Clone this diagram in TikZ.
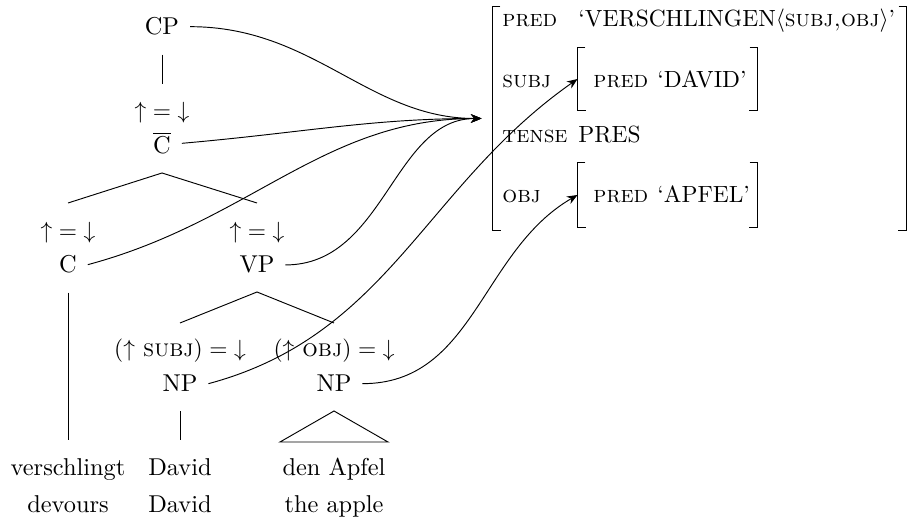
\documentclass[tikz,border=0pt]{standalone}
\usepackage{amsmath}
\usetikzlibrary{arrows.meta,positioning}
\newcommand{\fsz}{\fontsize{10.4}{12.5}\selectfont}

\begin{document}
\begin{tikzpicture}[x=0.015cm,y=0.015cm,font=\fsz]
  \tikzset{cat/.style={inner xsep=4.5pt, inner ysep=0pt, anchor=base},
    ann/.style={inner sep=0pt, anchor=base},
    word/.style={inner sep=0pt, anchor=base},
    tree/.style={shorten <=8pt, shorten >=8pt},
    proj/.style={-{Stealth[length=4.5pt,width=3.6pt]}},
    attr/.style={inner sep=0pt, anchor=base west, font=\normalsize\scshape},
    val/.style={inner sep=0pt, anchor=base west, font=\normalsize},
    fstr/.style={inner sep=0pt, minimum width=2.685cm, minimum height=0.95cm}}
  \useasboundingbox (0,0) rectangle (909,-524);
  % c-structure
  \node[cat] (cp) at (162,-35) {CP};
  \node[ann] (cbarann) at (162,-119) {${\uparrow} = {\downarrow}$};
  \node[cat] (cbar) at (162,-154) {$\overline{\mbox{C}}$};
  \node[ann] (cann) at (68,-239) {${\uparrow} = {\downarrow}$};
  \node[cat] (c) at (68,-273) {C};
  \node[ann] (vpann) at (257,-239) {${\uparrow} = {\downarrow}$};
  \node[cat] (vp) at (257,-273) {VP};
  \node[ann] (subjann) at (180,-357) {$({\uparrow}$ \textsc{subj}$) = {\downarrow}$};
  \node[cat] (np1) at (180,-392) {NP};
  \node[ann] (objann) at (334,-357) {$({\uparrow}$ \textsc{obj}$) = {\downarrow}$};
  \node[cat] (np2) at (334,-392) {NP};
  % words and glosses
  \node[word] (w1) at (68,-476) {verschlingt};
  \node[word] (w2) at (180,-476) {David};
  \node[word] (w3) at (334,-476) {den Apfel};
  \node[word] (g1) at (68,-513) {devours};
  \node[word] (g2) at (180,-513) {David};
  \node[word] (g3) at (334,-513) {the apple};
  % branches
  \coordinate (b1) at (162,-173);
  \coordinate (b1l) at (68,-203);
  \coordinate (b1r) at (257,-203);
  \coordinate (b2) at (257,-292);
  \coordinate (b2l) at (180,-323);
  \coordinate (b2r) at (334,-323);
  \coordinate (t) at (334,-411);
  \coordinate (tl) at (280,-442);
  \coordinate (tr) at (388,-442);
  \draw[tree] (cp) -- (cbarann);
  \draw (b1l) -- (b1) -- (b1r);
  \draw (b2l) -- (b2) -- (b2r);
  \draw[tree] (c) -- (w1);
  \draw[tree] (np1) -- (w2);
  \draw (tl) -- (t) -- (tr) -- cycle;
  % f-structure
  \node[fstr, minimum width=6.195cm, minimum height=3.345cm] (f0) at (699.5,-118.5) {};
  \node[fstr, minimum height=0.93cm] (fsubj) at (667.5,-79) {};
  \node[fstr] (fobj) at (667.5,-195) {};
  \foreach \f in {f0,fsubj,fobj} {
    \draw ([xshift=3.4pt]\f.north west) -| (\f.south west) -- ++(8,0);
    \draw ([xshift=-3.4pt]\f.north east) -| (\f.south east) -- ++(-8,0);
  }
  \node[attr] (a-pred) at (502,-27) {pred};
  \node[val] (p-val) at (578,-27) {`VERSCHLINGEN$\langle$\textsc{subj,obj}$\rangle$'};
  \node[attr] (a-subj) at (502,-88) {subj};
  \node[attr] (s-pred) at (593,-88) {pred};
  \node[val] (s-val) at (657,-88) {`DAVID'};
  \node[attr] (a-tense) at (502,-143) {tense};
  \node[val] (t-val) at (578,-143) {PRES};
  \node[attr] (a-obj) at (502,-203) {obj};
  \node[attr] (o-pred) at (593,-203) {pred};
  \node[val] (o-val) at (657,-203) {`APFEL'};
  % projections
  \draw[proj, shorten >=4.7pt] (cp.east) to[out=0,in=180] (f0.west);
  \draw[proj, shorten >=4.7pt] (cbar.east) to[out=5,in=180] (f0.west);
  \draw[proj, shorten >=4.7pt] (c.east) to[out=15,in=180] (f0.west);
  \draw[proj, shorten >=4.7pt] (vp.east) to[out=0,in=180] (f0.west);
  \draw[proj] (np1.east) to[out=15,in=215] (fsubj.west);
  \draw[proj] (np2.east) to[out=0,in=210] (fobj.west);
\end{tikzpicture}
\end{document}
